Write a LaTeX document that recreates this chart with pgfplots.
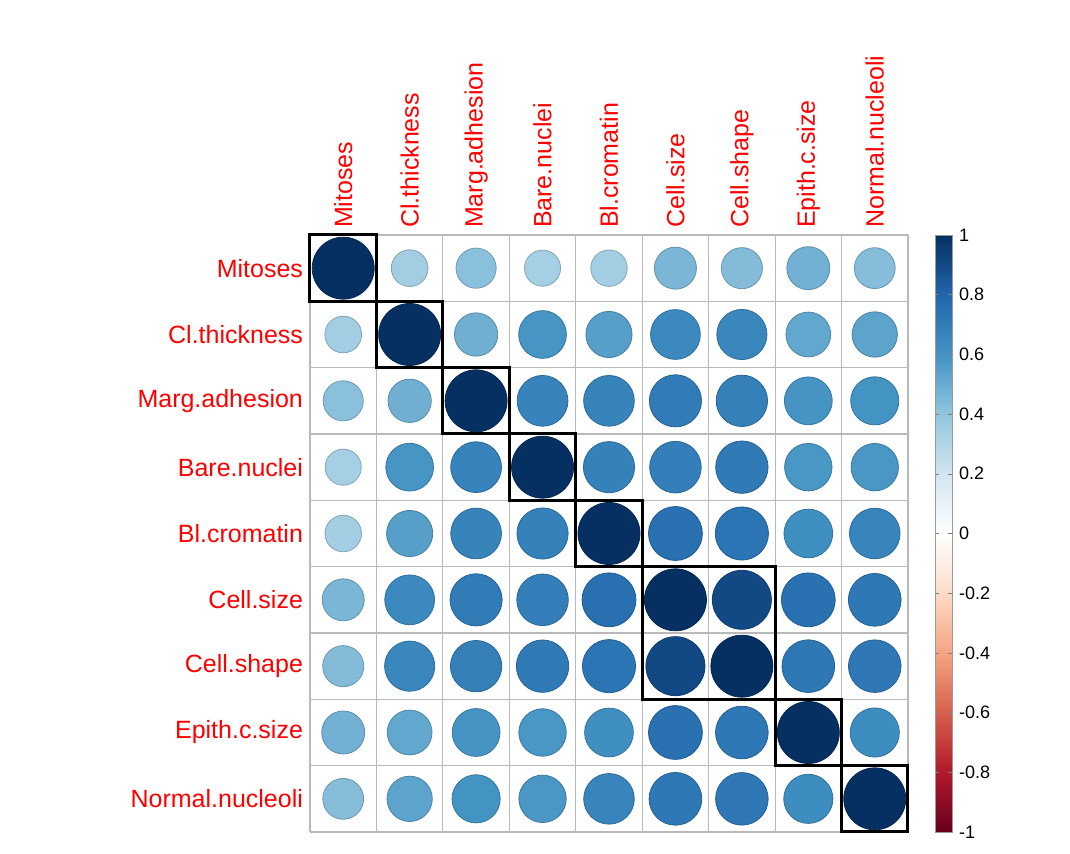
\documentclass[border=0pt]{standalone}
\usepackage{pgfplots}
\usepackage{pgfplotstable}
\pgfplotsset{compat=1.18}
\usepackage{fontspec}
\setmainfont{Liberation Sans}
\pgfplotstableread{
x y v
1 1 1
2 1 .351
3 1 .419
4 1 .339
5 1 .346
6 1 .459
7 1 .439
8 1 .481
9 1 .434
1 2 .351
2 2 1
3 2 .488
4 2 .593
5 2 .554
6 2 .645
7 2 .655
8 2 .522
9 2 .534
1 3 .419
2 3 .488
3 3 1
4 3 .671
5 3 .669
6 3 .707
7 3 .686
8 3 .595
9 3 .603
1 4 .339
2 4 .593
3 4 .671
4 4 1
5 4 .681
6 4 .692
7 4 .714
8 4 .586
9 4 .584
1 5 .346
2 5 .554
3 5 .669
4 5 .681
5 5 1
6 5 .756
7 5 .735
8 5 .618
9 5 .666
1 6 .459
2 6 .645
3 6 .707
4 6 .692
5 6 .756
6 6 1
7 6 .907
8 6 .754
9 6 .723
1 7 .439
2 7 .655
3 7 .686
4 7 .714
5 7 .735
6 7 .907
7 7 1
8 7 .722
9 7 .719
1 8 .481
2 8 .522
3 8 .595
4 8 .586
5 8 .618
6 8 .754
7 8 .722
8 8 1
9 8 .629
1 9 .434
2 9 .534
3 9 .603
4 9 .584
5 9 .666
6 9 .723
7 9 .719
8 9 .629
9 9 1
}\corr
\begin{document}
\begin{tikzpicture}
\useasboundingbox (-155pt,-11pt) rectangle (380pt,416pt);
\begin{axis}[
  at={(0,0)}, anchor=south west,
  scale only axis, width=299pt, height=298.5pt,
  xmin=0.5, xmax=9.5, ymin=0.5, ymax=9.5, y dir=reverse,
  axis line style={draw=none},
  xtick={1,...,9}, ytick={1,...,9},
  xticklabels={Mitoses,Cl.thickness,Marg.adhesion,Bare.nuclei,Bl.cromatin,Cell.size,Cell.shape,Epith.c.size,Normal.nucleoli},
  yticklabels={Mitoses,Cl.thickness,Marg.adhesion,Bare.nuclei,Bl.cromatin,Cell.size,Cell.shape,Epith.c.size,Normal.nucleoli},
  xticklabel pos=top,
  x tick label style={rotate=90, anchor=west, red, font=\fontsize{12.5}{14}\selectfont},
  y tick label style={red, font=\fontsize{12.5}{14}\selectfont},
  major tick length=0pt, minor tick length=0pt,
  minor xtick={0.5,1.5,...,9.5}, minor ytick={0.5,1.5,...,9.5},
  minor grid style={gray!55, line width=0.6pt},
  xminorgrids, yminorgrids,
  colormap={rdbu}{rgb255=(103,0,31) rgb255=(178,24,43) rgb255=(214,96,77) rgb255=(244,165,130) rgb255=(253,219,199) rgb255=(255,255,255) rgb255=(209,229,240) rgb255=(146,197,222) rgb255=(67,147,195) rgb255=(33,102,172) rgb255=(5,48,97)},
  point meta min=-1, point meta max=1,
  colorbar,
  colorbar style={at={(parent axis.north east)}, anchor=north west, xshift=5pt,
    width=8.5pt, ytick={-1,-0.8,...,1}, major tick length=2pt,
    yticklabel style={font=\fontsize{9}{10}\selectfont, /pgf/number format/assume math mode=true, /pgf/number format/fixed},
    axis line style={draw=black!40}},
  clip=false,
]
\addplot[scatter, only marks, mark=*, point meta=explicit,
  visualization depends on={15.5*sqrt(abs(\thisrow{v})) \as \rad},
  scatter/@pre marker code/.append style={/tikz/mark size=\rad pt}]
  table[x=x, y=y, meta=v] {\corr};
\draw[black, line width=1.5pt] (axis cs:0.5,0.5) rectangle (axis cs:1.5,1.5);
\draw[black, line width=1.5pt] (axis cs:1.5,1.5) rectangle (axis cs:2.5,2.5);
\draw[black, line width=1.5pt] (axis cs:2.5,2.5) rectangle (axis cs:3.5,3.5);
\draw[black, line width=1.5pt] (axis cs:3.5,3.5) rectangle (axis cs:4.5,4.5);
\draw[black, line width=1.5pt] (axis cs:4.5,4.5) rectangle (axis cs:5.5,5.5);
\draw[black, line width=1.5pt] (axis cs:5.5,5.5) rectangle (axis cs:7.5,7.5);
\draw[black, line width=1.5pt] (axis cs:7.5,7.5) rectangle (axis cs:8.5,8.5);
\draw[black, line width=1.5pt] (axis cs:8.5,8.5) rectangle (axis cs:9.5,9.5);
\end{axis}
\end{tikzpicture}
\end{document}
